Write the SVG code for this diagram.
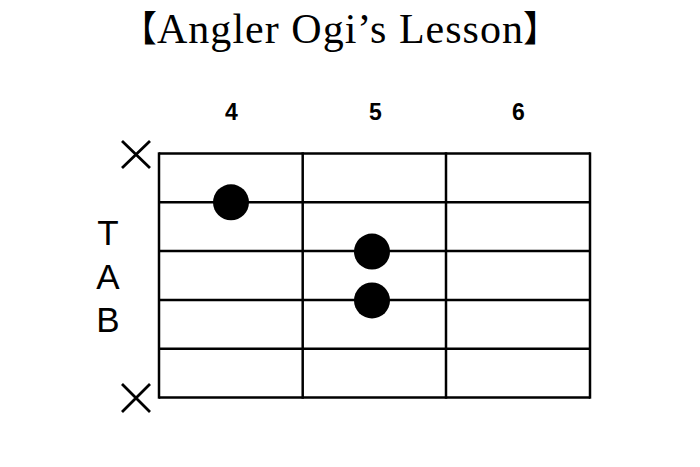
<svg xmlns="http://www.w3.org/2000/svg" width="700" height="467" viewBox="0 0 700 467">
<style>
.bg{fill:#fff}
.title{font-family:"Liberation Serif","Times New Roman",serif;font-size:42px;fill:#000}
.brk{font-family:"Noto Sans CJK JP","Noto Sans CJK SC",sans-serif;font-size:36px;fill:#000}
.fret{font-family:"Liberation Sans",Arial,sans-serif;font-size:23px;font-weight:bold;fill:#000;text-anchor:middle}
.tab{font-family:"Liberation Sans",Arial,sans-serif;font-size:35px;fill:#000;text-anchor:middle}
.line{stroke:#000;stroke-width:2.5;fill:none}
.mute{stroke:#000;stroke-width:2.8;fill:none}
.dot{fill:#000}
</style>
<rect class="bg" x="0" y="0" width="700" height="467"/>
<g id="title">
<text class="brk" x="157" y="42" text-anchor="end">【</text>
<text class="title" x="157" y="43" textLength="366" lengthAdjust="spacing">Angler Ogi’s Lesson</text>
<text class="brk" x="523" y="42">】</text>
</g>
<g id="fret-numbers">
<text class="fret" x="231.5" y="120">4</text>
<text class="fret" x="375.5" y="120">5</text>
<text class="fret" x="518.5" y="120">6</text>
</g>
<g id="tab-label">
<text class="tab" x="108" y="245">T</text>
<text class="tab" x="108" y="289">A</text>
<text class="tab" x="108" y="332">B</text>
</g>
<g id="grid">
<line class="line" x1="159" y1="153.5" x2="590" y2="153.5"/>
<line class="line" x1="159" y1="202.3" x2="590" y2="202.3"/>
<line class="line" x1="159" y1="251.1" x2="590" y2="251.1"/>
<line class="line" x1="159" y1="299.9" x2="590" y2="299.9"/>
<line class="line" x1="159" y1="348.7" x2="590" y2="348.7"/>
<line class="line" x1="159" y1="397.5" x2="590" y2="397.5"/>
<line class="line" x1="159" y1="152.3" x2="159" y2="398.7"/>
<line class="line" x1="302.7" y1="152.3" x2="302.7" y2="398.7"/>
<line class="line" x1="446" y1="152.3" x2="446" y2="398.7"/>
<line class="line" x1="590" y1="152.3" x2="590" y2="398.7"/>
</g>
<g id="mute-top">
<path class="mute" d="M122,141 L150,168 M150,141 L122,168"/>
</g>
<g id="mute-bottom">
<path class="mute" d="M122,384 L150,412 M150,384 L122,412"/>
</g>
<g id="dots">
<circle class="dot" cx="231" cy="202.3" r="18"/>
<circle class="dot" cx="372" cy="251.6" r="18"/>
<circle class="dot" cx="372" cy="300.4" r="18"/>
</g>
</svg>
